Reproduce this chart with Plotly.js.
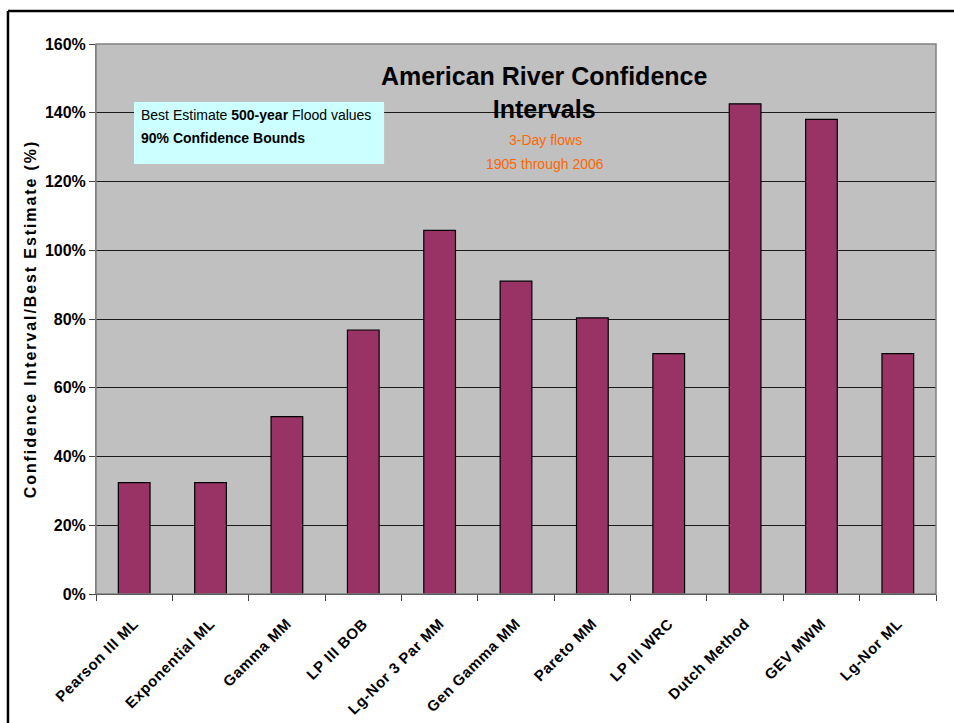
<!DOCTYPE html>
<html>
<head>
<meta charset="utf-8">
<script src="https://cdn.plot.ly/plotly-3.0.1.min.js"></script>
<style>
  html, body { margin: 0; padding: 0; background: #ffffff; }
  #chart { width: 954px; height: 723px; }
</style>
</head>
<body>
<div id="chart"></div>
<script>
// Fitting methods compared for the 500-year flood estimate
const methods = [
  'Pearson III ML', 'Exponential ML', 'Gamma MM', 'LP III BOB',
  'Lg-Nor 3 Par MM', 'Gen Gamma MM', 'Pareto MM', 'LP III WRC',
  'Dutch Method', 'GEV MWM', 'Lg-Nor ML'
];
// 90% confidence interval width as a fraction of the best estimate
const ciRatio = [0.324, 0.324, 0.516, 0.768, 1.058, 0.910, 0.803, 0.699, 1.426, 1.381, 0.699];

const yTickVals = [0, 0.2, 0.4, 0.6, 0.8, 1.0, 1.2, 1.4, 1.6];
const yTickText = ['0%', '20%', '40%', '60%', '80%', '100%', '120%', '140%', '160%'];

const sans = '"Liberation Sans", Arial, sans-serif';

// spaced-out tick labels
const xTickText = methods.map(m => '<span style="letter-spacing:0.6px">' + m + '</span>');

const trace = {
  type: 'bar',
  x: methods,
  y: ciRatio,
  marker: { color: '#993366', line: { color: '#000000', width: 1.2 } },
  hoverinfo: 'x+y'
};

const layout = {
  width: 954,
  height: 723,
  margin: { l: 96, r: 18, t: 44, b: 129 },
  paper_bgcolor: '#ffffff',
  plot_bgcolor: '#c0c0c0',
  showlegend: false,
  bargap: 0.585,
  font: { family: sans, color: '#000000' },
  title: {
    text: '<b>American River Confidence<br>Intervals</b>',
    font: { family: sans, size: 25, color: '#000000' },
    xref: 'paper', x: 0.5335, xanchor: 'center',
    yref: 'paper', y: 0.925, yanchor: 'middle'
  },
  xaxis: {
    type: 'category',
    tickmode: 'array',
    tickvals: methods,
    ticktext: xTickText,
    tickangle: -45,
    tickfont: { family: sans, size: 15, color: '#000000', weight: 'bold' },
    tickson: 'boundaries',
    ticks: 'outside',
    ticklen: 6,
    tickcolor: '#444444',
    ticklabelstandoff: 14,
    showline: true,
    linecolor: '#000000',
    linewidth: 1,
    showgrid: false,
    zeroline: false,
    fixedrange: true
  },
  yaxis: {
    range: [0, 1.6],
    tickmode: 'array',
    tickvals: yTickVals,
    ticktext: yTickText,
    tickfont: { family: sans, size: 16, color: '#000000', weight: 'bold' },
    ticks: 'outside',
    ticklen: 6,
    tickcolor: '#444444',
    showline: true,
    linecolor: '#808080',
    linewidth: 1,
    showgrid: true,
    gridcolor: '#1a1a1a',
    gridwidth: 1,
    zeroline: false,
    fixedrange: true,
    title: {
      text: '<span style="letter-spacing:1.9px">Confidence Interval/Best Estimate (%)</span>',
      font: { family: sans, size: 16, color: '#000000', weight: 'bold' },
      standoff: 4
    }
  },
  shapes: [
    // plot area outline
    { type: 'rect', xref: 'paper', yref: 'paper', x0: 0, x1: 1, y0: 0, y1: 1,
      line: { color: '#808080', width: 1.5 }, layer: 'above' },
    // note box
    { type: 'rect', xref: 'paper', yref: 'paper',
      x0: (134 - 96) / 839.7, x1: (384 - 96) / 839.7,
      y0: (594 - 164) / 550, y1: (594 - 102) / 550,
      fillcolor: '#ccffff', line: { width: 0 }, layer: 'above' },
    // outer frame, left and top edges
    { type: 'line', xref: 'paper', yref: 'paper',
      x0: (8 - 96) / 839.7, x1: (8 - 96) / 839.7, y0: 1.06, y1: -0.3,
      line: { color: '#000000', width: 2.5 } },
    { type: 'line', xref: 'paper', yref: 'paper',
      x0: (8 - 96) / 839.7, x1: 1.1, y0: 1.06, y1: 1.06,
      line: { color: '#000000', width: 2.5 } }
  ],
  annotations: [
    { xref: 'paper', yref: 'paper', x: (139 - 96) / 839.7, y: (594 - 115) / 550,
      xanchor: 'left', yanchor: 'middle', showarrow: false,
      text: 'Best Estimate <b>500-year</b> Flood values',
      font: { family: sans, size: 14, color: '#000000' } },
    { xref: 'paper', yref: 'paper', x: (139 - 96) / 839.7, y: (594 - 138) / 550,
      xanchor: 'left', yanchor: 'middle', showarrow: false,
      text: '<b>90% Confidence Bounds</b>',
      font: { family: sans, size: 14, color: '#000000' } },
    { xref: 'paper', yref: 'paper', x: (545 - 96) / 839.7, y: (594 - 140) / 550,
      xanchor: 'center', yanchor: 'middle', showarrow: false,
      text: '3-Day flows',
      font: { family: sans, size: 14, color: '#ff6600' } },
    { xref: 'paper', yref: 'paper', x: (545 - 96) / 839.7, y: (594 - 164) / 550,
      xanchor: 'center', yanchor: 'middle', showarrow: false,
      text: '1905 through 2006',
      font: { family: sans, size: 14, color: '#ff6600' } }
  ]
};

Plotly.newPlot('chart', [trace], layout, { displayModeBar: false, staticPlot: true });
</script>
</body>
</html>
